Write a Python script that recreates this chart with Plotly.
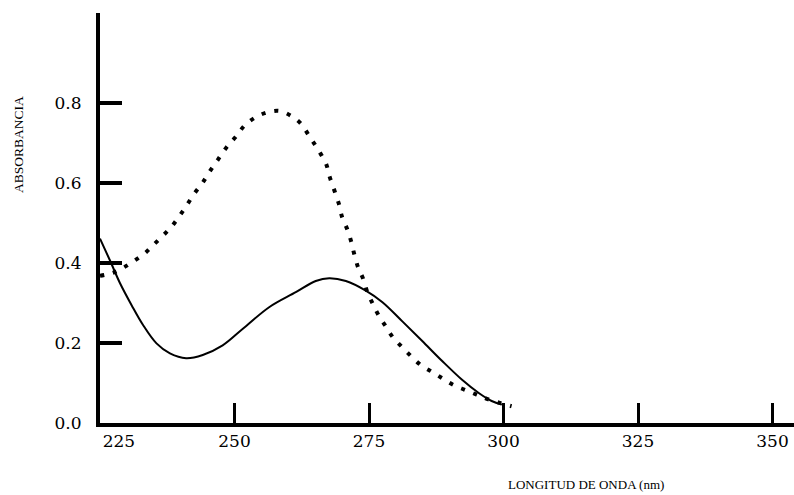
import plotly.graph_objects as go

# Wavelength (nm) / absorbance
solid_x = [225, 226.9, 228.7, 230.9, 233.0, 235.5, 238.0, 241.0, 244.1, 247.8, 251.5,
           256.5, 261.4, 265.1, 267.6, 270.7, 274.4, 277.5, 281.2, 284.9, 288.6,
           292.3, 295.4, 297.8, 299.7]
solid_y = [0.461, 0.405, 0.350, 0.294, 0.245, 0.199, 0.174, 0.162, 0.170, 0.194, 0.235,
           0.290, 0.327, 0.355, 0.362, 0.355, 0.331, 0.302, 0.254, 0.205, 0.155,
           0.108, 0.075, 0.055, 0.046]

dot_x = [225, 227.5, 229.3, 231.2, 233.3, 234.9, 236.6, 238.3, 239.8, 241.2, 242.6,
         244.0, 245.4, 246.9, 248.5, 250.2, 251.9, 254.0, 256.2, 258.4, 260.5,
         262.3, 264.0, 265.6, 267.0, 267.7, 268.6, 269.4, 270.0, 271.0, 271.7,
         272.3, 273.0, 273.9, 274.7, 275.7, 276.7, 278.0, 279.4, 281.2, 282.9,
         284.7, 286.7, 288.7, 290.7, 292.8, 295.0, 297.2, 301.5]
dot_y = [0.368, 0.376, 0.388, 0.404, 0.424, 0.445, 0.467, 0.491, 0.518, 0.546, 0.575,
         0.599, 0.629, 0.658, 0.689, 0.715, 0.744, 0.765, 0.777, 0.780, 0.768,
         0.749, 0.715, 0.682, 0.649, 0.615, 0.580, 0.548, 0.515, 0.483, 0.453,
         0.420, 0.388, 0.361, 0.327, 0.298, 0.271, 0.244, 0.215, 0.189, 0.166,
         0.144, 0.128, 0.111, 0.095, 0.083, 0.071, 0.059, 0.042]

x_ticks = [225, 250, 275, 300, 325, 350]
x_tick_text = ["\u00a0" * 7 + "225", "250", "275", "300", "325", "350"]
y_ticks = [0.0, 0.2, 0.4, 0.6, 0.8]
y_tick_text = ["0.0", "0.2", "0.4", "0.6", "0.8"]

x_title = "LONGITUD DE ONDA (nm)"
y_title = "ABSORBANCIA"

fig = go.Figure()
fig.add_trace(go.Scatter(
    x=dot_x, y=dot_y, mode="lines",
    line=dict(color="black", width=4, dash="4px,9px", shape="spline", smoothing=1),
    showlegend=False, hoverinfo="skip"))
fig.add_trace(go.Scatter(
    x=solid_x, y=solid_y, mode="lines",
    line=dict(color="black", width=2, shape="spline", smoothing=1),
    showlegend=False, hoverinfo="skip"))

tick_font = dict(family="DejaVu Serif", size=17, color="black")

L, R, T, B = 100, 0, 13, 72
W, H = 794, 495
pw, ph = W - L - R, H - T - B

fig.update_xaxes(
    range=[225, 225 + pw / 5.38], showline=True, linewidth=4, linecolor="black",
    ticks="inside", ticklen=20, tickwidth=3, tickcolor="black",
    tickvals=x_ticks, ticktext=x_tick_text, tickfont=tick_font,
    showgrid=False, zeroline=False, ticklabelstandoff=0)
fig.update_yaxes(
    range=[0, 1.025], showline=True, linewidth=4, linecolor="black",
    ticks="inside", ticklen=22, tickwidth=4, tickcolor="black",
    tickvals=y_ticks, ticktext=y_tick_text, tickfont=tick_font,
    showgrid=False, zeroline=False, ticklabelstandoff=11)

def px_to_paper(px, py):
    return (px - L) / pw, (H - B - py) / ph

ax_, ay_ = px_to_paper(586, 485)
fig.add_annotation(text=x_title, xref="paper", yref="paper",
                   x=ax_, y=ay_, xanchor="center", yanchor="middle", showarrow=False,
                   font=dict(family="Liberation Serif", size=13, color="black"))
bx_, by_ = px_to_paper(19, 145)
fig.add_annotation(text=y_title, xref="paper", yref="paper",
                   x=bx_, y=by_, xanchor="center", yanchor="middle",
                   textangle=-90, showarrow=False,
                   font=dict(family="Liberation Serif", size=13.5, color="black"))

fig.update_layout(
    width=W, height=H,
    margin=dict(l=L, r=R, t=T, b=B),
    plot_bgcolor="white", paper_bgcolor="white",
)

fig.write_html("out.html",
               config={"displayModeBar": False},
               post_script="document.body.style.margin='0';document.body.style.overflow='hidden';")
